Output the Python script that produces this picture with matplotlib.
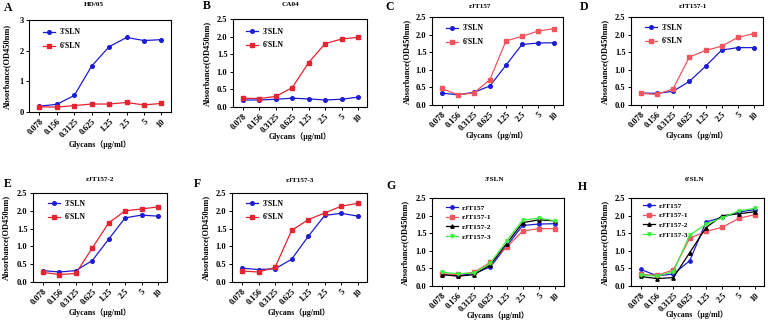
import matplotlib
matplotlib.use("Agg")
import matplotlib.pyplot as plt

conc_labels = ["0.078", "0.156", "0.3125", "0.625", "1.25", "2.5", "5", "10"]

HD05_3SLN = [0.19, 0.25, 0.54, 1.50, 2.13, 2.43, 2.33, 2.36]
HD05_6SLN = [0.17, 0.16, 0.21, 0.26, 0.26, 0.31, 0.23, 0.28]
CA04_3SLN = [0.20, 0.20, 0.22, 0.25, 0.23, 0.20, 0.22, 0.28]
CA04_6SLN = [0.25, 0.24, 0.30, 0.55, 1.26, 1.80, 1.93, 1.98]
rJT157_3SLN = [0.34, 0.29, 0.36, 0.54, 1.13, 1.72, 1.76, 1.77]
rJT157_6SLN = [0.47, 0.29, 0.34, 0.72, 1.82, 1.95, 2.10, 2.17]
rJT157_1_3SLN = [0.34, 0.33, 0.39, 0.67, 1.10, 1.56, 1.63, 1.63]
rJT157_1_6SLN = [0.33, 0.30, 0.46, 1.36, 1.55, 1.67, 1.92, 2.03]
rJT157_2_3SLN = [0.32, 0.28, 0.32, 0.60, 1.20, 1.80, 1.88, 1.85]
rJT157_2_6SLN = [0.27, 0.21, 0.24, 0.95, 1.66, 2.00, 2.05, 2.11]
rJT157_3_3SLN = [0.39, 0.35, 0.37, 0.64, 1.28, 1.87, 1.93, 1.85]
rJT157_3_6SLN = [0.31, 0.28, 0.41, 1.45, 1.75, 1.94, 2.13, 2.21]

variant_names = ["rJT157", "rJT157-1", "rJT157-2", "rJT157-3"]
glycan_names = ["3'SLN", "6'SLN"]

SERIF = ["Liberation Serif", "Noto Sans CJK SC"]
BLUE = "#1c1cd6"
RED = "#e62330"
LRED = "#f05560"
BLACK = "#000000"
GREEN = "#3cf03c"

W, H = 768, 322
fig = plt.figure(figsize=(W / 100, H / 100), dpi=100)
x = list(range(len(conc_labels)))


def make_ax(box):
    l, t, r, b = box
    return fig.add_axes([l / W, 1 - b / H, (r - l) / W, (b - t) / H])


def style(ax, box, title, title_xy, letter, letter_xy, ylab_x, xlab_y, ymax, yticks, ytl):
    l, t, r, b = box
    ax.set_xlim(-0.6, 7.55)
    ax.set_ylim(0, ymax)
    ax.set_xticks(x)
    ax.set_xticklabels(conc_labels, rotation=45, ha="right", rotation_mode="anchor",
                       fontsize=6, fontweight="bold", family=SERIF)
    ax.set_yticks(yticks)
    ax.set_yticklabels(ytl, fontsize=6, fontweight="bold", family=SERIF)
    ax.tick_params(length=2.5, width=0.7, pad=1.5)
    for s in ax.spines.values():
        s.set_linewidth(0.8)
    ax.set_ylabel("Absorbance(OD450nm)", fontsize=6, fontweight="bold", family=SERIF, va="center")
    ax.yaxis.set_label_coords((ylab_x - l) / (r - l), 0.5)
    ax.set_xlabel("Glycans（μg/ml）", fontsize=5.7, fontweight="bold", family=SERIF, va="center")
    ax.xaxis.set_label_coords(0.5, (b - xlab_y) / (b - t))
    fig.text(title_xy[0] / W, 1 - title_xy[1] / H, title, fontsize=5.2, fontweight="bold",
             family=SERIF, ha="center", va="center")
    fig.text(letter_xy[0] / W, 1 - letter_xy[1] / H, letter, fontsize=8.5, fontweight="bold",
             family=SERIF, ha="left", va="center")


def legend(ax, box, hx, ry, fs, spacing):
    l, t, r, b = box
    ax.legend(loc="upper left", bbox_to_anchor=((hx - l) / (r - l), (b - (ry - 4.5)) / (b - t)),
              frameon=False, prop={"family": SERIF, "size": fs, "weight": "bold"},
              handlelength=1.6, labelspacing=spacing, handletextpad=0.5,
              borderpad=0, borderaxespad=0)


lw = 0.9
ms = 2.6
yt25 = [0, 0.5, 1.0, 1.5, 2.0, 2.5]
yt25l = ["0.0", "0.5", "1.0", "1.5", "2.0", "2.5"]

# box (l, t, r, b), title, title pos, letter, letter pos, ylabel x, xlabel y, legend handle x, legend first row y
panels = [
    ((29, 20, 171, 112), "HD/05", (94, 5), "A", (4, 8), 7, 145, 43, 33, HD05_3SLN, HD05_6SLN, RED, 3),
    ((233, 19, 367, 107), "CA04", (290, 5), "B", (203, 6), 207, 137, 246, 32, CA04_3SLN, CA04_6SLN, RED, 2.5),
    ((432, 17, 563, 105), "rJT157", (480, 7), "C", (385, 7), 407, 136, 446, 29, rJT157_3SLN, rJT157_6SLN, LRED, 2.5),
    ((631, 17, 763, 105), "rJT157-1", (693, 6), "D", (580, 7), 605, 136, 645, 28, rJT157_1_3SLN, rJT157_1_6SLN, LRED, 2.5),
    ((33, 193, 167, 282), "rJT157-2", (100, 180), "E", (4, 184), 6, 313, 48, 204, rJT157_2_3SLN, rJT157_2_6SLN, RED, 2.5),
    ((232, 193, 367, 282), "rJT157-3", (300, 181), "F", (194, 184), 206, 313, 246, 204, rJT157_3_3SLN, rJT157_3_6SLN, RED, 2.5),
]

for (box, title, txy, letter, lxy, ylx, xly, hx, ry, s3, s6, rc, ymax) in panels:
    ax = make_ax(box)
    ax.plot(x, s3, color=BLUE, marker="o", ms=ms, lw=lw, label=glycan_names[0])
    ax.plot(x, s6, color=rc, marker="s", ms=ms, lw=lw, label=glycan_names[1])
    if ymax == 3:
        style(ax, box, title, txy, letter, lxy, ylx, xly, 3, [0, 1, 2, 3], ["0", "1", "2", "3"])
    else:
        style(ax, box, title, txy, letter, lxy, ylx, xly, 2.5, yt25, yt25l)
    legend(ax, box, hx, ry, 5.6, 0.75)

vcolors = [BLUE, LRED, BLACK, GREEN]
vmarkers = ["o", "s", "^", "v"]
groups = [
    ((432, 198, 564, 286), "3'SLN", (495, 180), "G", (386, 186), 405, 316, 446, 209,
     [rJT157_3SLN, rJT157_1_3SLN, rJT157_2_3SLN, rJT157_3_3SLN]),
    ((631, 198, 764, 286), "6'SLN", (695, 180), "H", (578, 187), 605, 315, 643, 207,
     [rJT157_6SLN, rJT157_1_6SLN, rJT157_2_6SLN, rJT157_3_6SLN]),
]
for (box, title, txy, letter, lxy, ylx, xly, hx, ry, series) in groups:
    ax = make_ax(box)
    for name, vals, c, m in zip(variant_names, series, vcolors, vmarkers):
        ax.plot(x, vals, color=c, marker=m, ms=2.4, lw=lw, label=name)
    style(ax, box, title, txy, letter, lxy, ylx, xly, 2.5, yt25, yt25l)
    legend(ax, box, hx, ry, 5.4, 0.45)

fig.savefig("out.png", dpi=100)
